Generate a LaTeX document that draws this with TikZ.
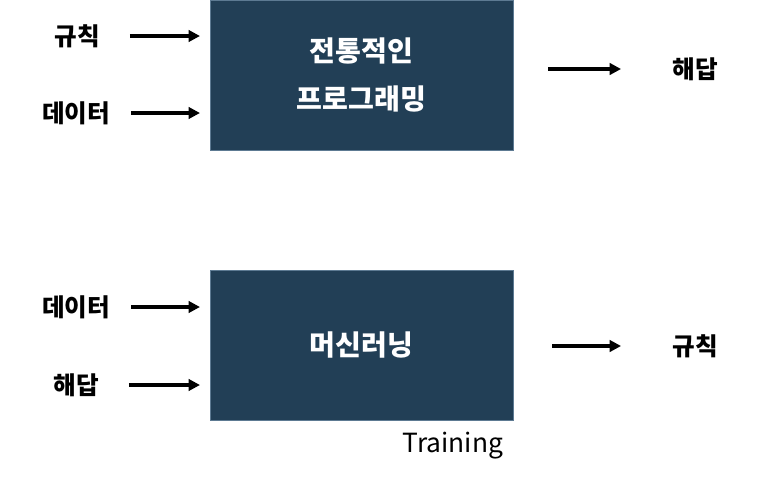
\documentclass[tikz,border=0pt]{standalone}
\usepackage{fontspec}
\usepackage{xcolor}
\usepackage{tikz}
\usetikzlibrary{positioning,calc,arrows.meta}
\setmainfont{Noto Sans CJK KR}
\definecolor{pnavy}{HTML}{223F56}
\definecolor{pedge}{HTML}{5D7A92}

\begin{document}
\begin{tikzpicture}[x=0.02cm, y=-0.02cm, font=\fontsize{14}{17}\selectfont,
  box/.style={draw=pedge, fill=pnavy, text=white, line width=0.4pt,
              align=center, minimum width=303*0.02cm, minimum height=150*0.02cm,
              inner sep=0pt, font=\bfseries\fontsize{16}{27}\selectfont},
  lbl/.style={inner sep=0pt, text=black, font=\bfseries\fontsize{14}{17}\selectfont},
  arr/.style={-{Triangle[length=6.5pt,width=6.5pt]}, line width=2pt, draw=black}]
  \useasboundingbox (0,0) rectangle (772,484);
  % --- traditional programming (top row)
  \node[box] (prog) at (361.5,75)  {전통적인\\프로그래밍};
  \node[lbl] (rul1) at (77,36)     {규칙};
  \node[lbl] (dat1) at (76,113)    {데이터};
  \node[lbl] (ans1) at (695,69)    {해답};
  % --- machine learning (bottom row)
  \node[box] (ml)   at (361.5,345) {머신러닝};
  \node[lbl] (dat2) at (76,307)    {데이터};
  \node[lbl] (ans2) at (76,385)    {해답};
  \node[lbl] (rul2) at (695,346)   {규칙};
  \node[lbl, font=\fontsize{15}{18}\selectfont] (trn) at (453,446) {Training};
  \draw[arr] ([xshift=17pt]rul1.east) -- ([xshift=-5.5pt]rul1 -| prog.west);
  \draw[arr] ([xshift=12pt]dat1.east) -- ([xshift=-5.5pt]dat1 -| prog.west);
  \draw[arr] ([xshift=20pt]prog.east |- ans1) -- ([xshift=-29pt]ans1.west);
  \draw[arr] ([xshift=12pt]dat2.east) -- ([xshift=-5.5pt]dat2 -| ml.west);
  \draw[arr] ([xshift=17pt]ans2.east) -- ([xshift=-5.5pt]ans2 -| ml.west);
  \draw[arr] ([xshift=22pt]ml.east |- rul2) -- ([xshift=-29pt]rul2.west);
\end{tikzpicture}
\end{document}
